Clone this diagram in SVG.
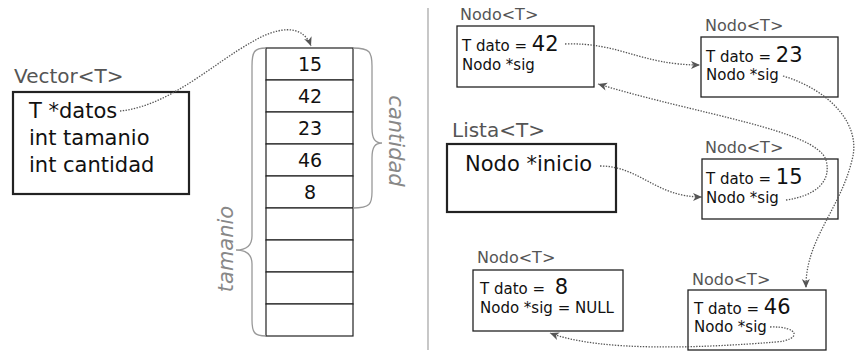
<svg xmlns="http://www.w3.org/2000/svg" width="857" height="356" viewBox="0 0 857 356">
  <style>
    text { font-family: "DejaVu Sans", "Liberation Sans", sans-serif; }
    .title { fill: #555; }
    .body { fill: #111; }
    .box { fill: #fff; stroke: #222; stroke-width: 1.3; }
    .thick { stroke-width: 2.2; }
    .cell { fill: #fff; stroke: #222; stroke-width: 1.2; }
    .brace { fill: none; stroke: #999; stroke-width: 1.3; }
    .dim { fill: #888; font-style: italic; font-size: 21px; }
    .link { fill: none; stroke: #555; stroke-width: 1.3; stroke-dasharray: 1.4 1.4; marker-end: url(#head); }
  </style>
  <defs>
    <marker id="head" markerWidth="12" markerHeight="10" viewBox="-10 -5 12 10" refX="0" refY="0" orient="auto" markerUnits="userSpaceOnUse">
      <path d="M0,0 L-9,-4 L-6.5,0 L-9,4 Z" fill="#555"/>
    </marker>
  </defs>

  <rect width="857" height="356" fill="#fff"/>

  <!-- separator -->
  <line x1="428" y1="8" x2="428" y2="350" stroke="#aaa" stroke-width="1.3"/>

  <!-- Vector<T> -->
  <g id="vector">
    <text class="title" x="14" y="83" font-size="20">Vector&lt;T&gt;</text>
    <rect class="box thick" x="13" y="92" width="176" height="102"/>
    <text class="body" x="29" y="118" font-size="21">T *datos</text>
    <text class="body" x="29" y="145" font-size="21">int tamanio</text>
    <text class="body" x="29" y="172" font-size="21">int cantidad</text>
  </g>

  <!-- array -->
  <g id="array">
    <rect class="cell" x="266" y="48" width="87" height="32"/>
    <rect class="cell" x="266" y="80" width="87" height="32"/>
    <rect class="cell" x="266" y="112" width="87" height="32"/>
    <rect class="cell" x="266" y="144" width="87" height="32"/>
    <rect class="cell" x="266" y="176" width="87" height="32"/>
    <rect class="cell" x="266" y="208" width="87" height="32"/>
    <rect class="cell" x="266" y="240" width="87" height="32"/>
    <rect class="cell" x="266" y="272" width="87" height="32"/>
    <rect class="cell" x="266" y="304" width="87" height="32"/>
    <g class="body" font-size="19" text-anchor="middle">
      <text x="310" y="71">15</text>
      <text x="310" y="103">42</text>
      <text x="310" y="135">23</text>
      <text x="310" y="167">46</text>
      <text x="310" y="199">8</text>
    </g>
  </g>

  <!-- cantidad brace -->
  <g id="cantidad">
    <path class="brace" d="M353,48 C370,48 372,52 372,66 L372,128 C372,139 375,143 382,143 C375,143 372,147 372,158 L372,192 C372,204 370,208 353,208"/>
    <text class="dim" transform="translate(389,141) rotate(90)" text-anchor="middle">cantidad</text>
  </g>

  <!-- tamanio brace -->
  <g id="tamanio">
    <path class="brace" d="M266,48 C254,48 252,52 252,66 L252,236 C252,246 246,250 236,250 C246,250 252,254 252,264 L252,320 C252,332 254,336 266,336"/>
    <text class="dim" transform="translate(233,249) rotate(-90)" text-anchor="middle">tamanio</text>
  </g>

  <!-- Lista<T> -->
  <g id="lista">
    <text class="title" x="452" y="137" font-size="20">Lista&lt;T&gt;</text>
    <rect class="box thick" x="447" y="144" width="169" height="68"/>
    <text class="body" x="465" y="171" font-size="21">Nodo *inicio</text>
  </g>

  <!-- nodes -->
  <g id="nodo42">
    <text class="title" x="460" y="20" font-size="16">Nodo&lt;T&gt;</text>
    <rect class="box" x="457" y="26" width="137" height="61"/>
    <text class="body" x="462" y="51" font-size="15">T dato = <tspan font-size="21">42</tspan></text>
    <text class="body" x="462" y="70" font-size="15">Nodo *sig</text>
  </g>

  <g id="nodo23">
    <text class="title" x="705" y="31" font-size="16">Nodo&lt;T&gt;</text>
    <rect class="box" x="701" y="37" width="137" height="60"/>
    <text class="body" x="706" y="62" font-size="15">T dato = <tspan font-size="21">23</tspan></text>
    <text class="body" x="706" y="80" font-size="15">Nodo *sig</text>
  </g>

  <g id="nodo15">
    <text class="title" x="705" y="153" font-size="16">Nodo&lt;T&gt;</text>
    <rect class="box" x="702" y="159" width="136" height="60"/>
    <text class="body" x="706" y="184" font-size="15">T dato = <tspan font-size="21">15</tspan></text>
    <text class="body" x="706" y="203" font-size="15">Nodo *sig</text>
  </g>

  <g id="nodo8">
    <text class="title" x="477" y="263" font-size="16">Nodo&lt;T&gt;</text>
    <rect class="box" x="473" y="270" width="150" height="61"/>
    <text class="body" x="480" y="294" font-size="15">T dato =  <tspan font-size="21" dx="5">8</tspan></text>
    <text class="body" x="480" y="313" font-size="15">Nodo *sig = NULL</text>
  </g>

  <g id="nodo46">
    <text class="title" x="692" y="285" font-size="16">Nodo&lt;T&gt;</text>
    <rect class="box" x="688" y="290" width="138" height="60"/>
    <text class="body" x="694" y="314" font-size="15">T dato = <tspan font-size="21">46</tspan></text>
    <text class="body" x="694" y="332" font-size="15">Nodo *sig</text>
  </g>

  <!-- pointers -->
  <g id="connectors">
    <path class="link" d="M120,111 C170,106 215,62 252,42 C275,28 302,22 311,46"/>
    <path class="link" d="M565,44 C620,42 640,65 700,65"/>
    <path class="link" d="M600,166 C640,166 655,197 702,197"/>
    <path class="link" d="M786,200 C815,196 832,182 826,160 C816,130 700,115 598,84"/>
    <path class="link" d="M783,76 C830,90 862,125 852,160 C840,210 805,240 806,288"/>
    <path class="link" d="M770,327 C800,326 802,340 776,342 C700,348 600,352 550,333"/>
  </g>
</svg>
